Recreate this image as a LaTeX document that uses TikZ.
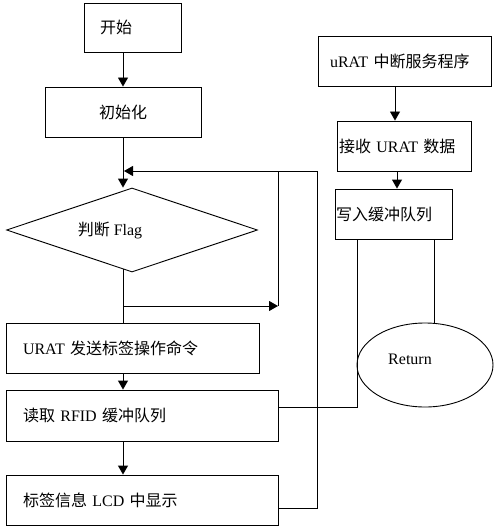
\documentclass[tikz,border=0pt]{standalone}
\usepackage{fontspec}
\setmainfont{Liberation Serif}
\newfontfamily\cnfont{Noto Sans CJK SC}
\newcommand{\cn}[1]{{\cnfont #1}}
\usetikzlibrary{positioning,arrows.meta,calc,shapes.geometric}

\begin{document}
\begin{tikzpicture}[
  x=1pt,y=-1pt,
  font=\fontsize{16}{19}\selectfont,
  line width=0.9pt,
  >={Triangle[length=9pt,width=10pt]},
  box/.style   ={draw,rectangle,align=left,inner ysep=0pt,minimum height=50pt},
  decide/.style={draw,diamond,inner sep=0pt,minimum width=251pt,minimum height=84pt},
  stop/.style  ={draw,ellipse,inner sep=0pt,minimum width=136pt,minimum height=84pt},
  flow/.style  ={->},
]
\useasboundingbox (0,0) rectangle (500,532);

% main loop (left column)
\node[box,inner xsep=16pt,text width=65pt,minimum height=49pt] (start) at (132.5,27.5) {\cn{开始}};
\node[box,inner xsep=0pt,text width=156pt,align=center] (init) at (123,112) {\cn{初始化}};
\node[decide,label={[xshift=-22pt]center:\cn{判断} Flag}] (flag) at (132,230) {};
\node[box,inner xsep=17pt,text width=219pt] (send) at (132.5,348) {URAT \cn{发送标签操作命令}};
\node[box,inner xsep=17pt,text width=238pt,minimum height=51pt] (read) at (142,415.5) {\cn{读取} RFID \cn{缓冲队列}};
\node[box,inner xsep=17pt,text width=238pt] (lcd) at (142,500) {\cn{标签信息} LCD \cn{中显示}};

% interrupt routine (right column)
\node[box,inner xsep=12pt,text width=149pt] (isr) at (404.5,61) {uRAT \cn{中断服务程序}};
\node[box,inner xsep=2pt,text width=130pt] (recv) at (404,146) {\cn{接收} URAT \cn{数据}};
\node[box,inner xsep=1pt,text width=115pt] (write) at (393.5,214) {\cn{写入缓冲队列}};
\node[stop,label={[xshift=-15pt,yshift=6pt]center:Return}] (ret) at (425,365) {};

\coordinate (bend) at (278,306);
\coordinate (loopX) at (317,171);

\draw[flow] (start.south -| init.south) -- (init.north);
\draw[flow] (init.south) -- (init.south |- flag.north);
\draw (init.south |- 0,269) -- (init.south |- send.north);
\draw[flow] (init.south |- bend) -- (bend);
\draw (bend) -- (bend |- loopX);
\draw[flow] ($(lcd.east)+(0,8)$) -| (loopX) -- ($(init.south |- loopX)+(1,0)$);
\draw[flow] ([xshift=-9.5pt]send.south) -- ([xshift=-19pt]read.north);
\draw[flow] ([xshift=-19pt]read.south) -- ([xshift=-19pt]lcd.north);

\draw[flow] ([xshift=-9.5pt]isr.south) -- ([xshift=-9pt]recv.north);
\draw[flow] ([xshift=-7pt]recv.south) -- ([xshift=3.5pt]write.south |- write.north);
\draw ($(read.east)+(0,-8.5)$) -| ([xshift=-36.5pt]write.south);
\draw ([xshift=40.5pt]write.south) -- ([xshift=40.5pt]write.south |- ret.north);

\end{tikzpicture}
\end{document}
